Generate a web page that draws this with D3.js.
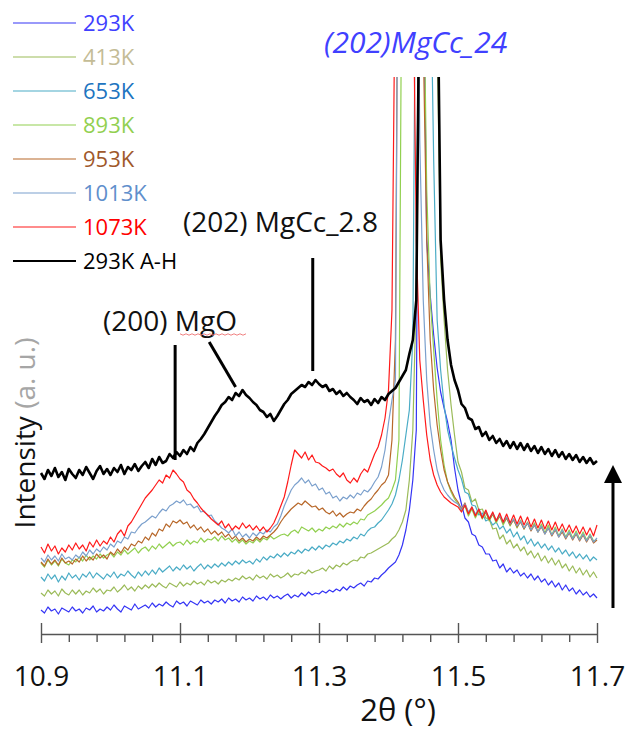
<!DOCTYPE html>
<html>
<head>
<meta charset="utf-8">
<script src="https://cdn.jsdelivr.net/npm/d3@7"></script>
<style>
  body { margin: 0; background: #fff; }
  svg { font-family: 'Open Sans', sans-serif; }
</style>
</head>
<body>
<svg id="chart" width="626" height="733"></svg>
<script>

// 2theta grid (deg), step 0.005 from 10.900 to 11.700
const twoTheta = d3.range(161).map(i => +(10.9 + i * 0.005).toFixed(3));

// intensities (a.u.), one value per grid point
const int293 = [
  30,27,33,29,31,26,32,30,28,33, 29,31,27,32,30,34,28,31,29,33,
  30,35,31,28,34,32,30,36,31,33, 35,32,37,33,36,34,38,35,33,39,
  36,38,34,39,37,35,40,37,39,36, 40,38,41,37,42,39,41,38,43,40,
  42,39,44,41,43,40,45,42,44,41, 44,46,42,45,43,47,44,48,45,47,
  46,49,47,50,48,51,49,53,50,54, 52,55,57,54,59,58,62,61,65,68,
  72,75,78,85,95,110,130,160,210,900, 700,400,345,305,272,248,232,218,200,172,
  150,136,122,118,106,104,95,93,86,86, 79,80,72,76,68,72,67,70,64,67,
  62,66,60,64,58,61,55,59,53,57, 50,55,49,52,46,50,45,48,43,46,
  42];
const int413 = [
  47,44,50,46,49,44,51,47,45,50, 46,50,45,49,47,52,48,51,46,50,
  49,53,48,51,55,50,53,49,54,51, 55,52,56,53,57,54,52,57,55,53,
  58,54,57,55,59,56,58,55,60,57, 59,56,60,58,61,59,62,60,64,61,
  63,60,65,62,64,61,66,63,65,62, 64,67,63,66,65,68,66,70,67,69,
  70,72,69,74,71,75,73,77,75,78, 80,79,83,82,86,87,89,91,93,95,
  97,101,104,110,118,130,160,210,350,800, 950,1000,950,850,600,380,320,270,235,205,
  178,168,152,150,138,141,130,131,122,121, 111,112,101,105,96,100,92,96,89,93,
  85,89,82,87,79,84,77,82,75,80, 72,76,69,74,67,72,65,70,63,68,
  62];
const int653 = [
  63,59,66,61,65,58,64,60,67,62, 65,60,66,63,68,62,67,64,61,66,
  63,68,62,66,64,69,65,62,68,64, 69,65,70,66,72,68,71,74,69,73,
  70,75,71,74,69,73,76,71,75,72, 76,73,77,74,78,75,79,76,80,77,
  79,76,81,78,83,80,84,82,86,83, 87,84,88,86,90,87,91,89,93,90,
  94,91,95,93,97,95,99,97,101,99, 103,101,106,104,109,112,113,117,120,125,
  130,136,145,160,180,205,230,300,800,1000, 1100,1000,700,480,320,270,235,210,195,182,
  170,161,148,146,135,134,125,127,119,121, 115,118,111,114,107,111,103,108,100,104,
  96,101,94,98,92,96,90,94,88,92, 86,90,84,88,82,86,81,85,79,83,
  80];
const int893 = [
  77,73,80,75,79,74,81,77,75,80, 78,83,79,85,80,84,81,86,82,85,
  87,83,88,85,90,86,89,92,87,91, 93,89,94,91,96,92,95,98,94,97,
  98,95,100,96,99,97,102,98,101,100, 103,99,104,100,102,98,101,97,100,96,
  99,97,101,98,102,100,104,101,103,105, 106,104,108,110,107,113,111,109,112,108,
  111,109,113,111,114,112,116,113,117,115, 118,116,121,120,125,127,129,132,135,139,
  142,150,160,200,800,1100,1200,1200,1100,1000, 700,450,340,290,240,200,175,158,148,141,
  136,129,134,124,131,122,129,121,128,119, 126,117,124,115,122,114,121,112,120,111,
  118,110,117,108,116,107,115,105,113,104, 111,103,110,102,109,101,108,100,106,99,
  100];
const int953 = [
  78,74,81,76,80,75,82,77,79,76, 81,78,84,79,83,80,86,82,85,81,
  88,85,91,87,93,90,96,94,99,97, 103,100,107,104,111,109,116,113,119,117,
  120,116,118,112,115,110,113,108,111,106, 109,105,108,103,106,101,104,99,102,98,
  101,99,103,100,104,102,105,108,112,118, 123,127,131,134,137,135,139,136,133,134,
  130,132,128,126,129,124,127,123,126,128, 127,131,129,134,138,141,146,150,155,158,
  165,200,300,900,1100,1200,1200,1150,1100,1000, 600,400,300,250,215,190,170,158,150,143,
  138,131,137,127,132,125,130,122,128,120, 126,119,124,117,122,115,120,113,118,111,
  117,109,115,108,113,106,112,104,110,103, 108,101,107,100,106,99,105,98,104,97,
  100];
const int1013 = [
  82,78,85,80,84,79,86,81,83,80, 85,82,88,84,90,86,91,88,93,90,
  96,93,99,97,103,101,108,107,112,116, 118,121,124,122,127,131,129,134,136,139,
  137,140,135,136,132,134,128,129,124,125, 119,116,112,110,107,111,104,108,103,106,
  102,107,104,108,106,110,108,113,116,124, 134,142,150,155,158,162,157,160,154,156,
  150,152,146,148,142,144,139,143,141,145, 142,147,145,150,148,152,158,163,173,190,
  217,240,260,900,1100,1150,1100,1000,900,500, 340,260,215,190,170,158,150,145,141,138,
  136,130,136,128,133,126,131,124,129,122, 127,120,125,118,123,116,121,114,119,112,
  117,110,115,108,114,106,112,105,111,103, 110,102,108,101,107,100,106,99,105,98,
  102];
const int1073 = [
  93,87,96,89,94,86,92,88,95,90, 97,91,95,89,98,93,100,94,99,96,
  103,98,106,110,104,114,118,124,130,136, 142,146,150,155,160,157,165,162,170,166,
  161,158,150,147,141,137,132,128,125,121, 118,115,119,112,116,110,114,111,117,112,
  115,110,114,109,113,108,112,117,125,134, 143,158,175,190,186,182,188,180,185,178,
  177,174,172,169,171,166,163,167,160,157, 162,158,166,171,168,177,186,193,205,222,
  250,330,700,1000,1100,1100,1000,700,400,280, 240,205,180,165,155,148,143,140,137,135,
  133,128,135,126,133,124,131,122,130,121, 128,119,127,118,126,117,125,116,124,115,
  123,113,121,112,120,111,119,110,118,109, 116,108,115,107,114,106,113,105,112,104,
  115];
const int293AH = [
  167,161,170,164,172,163,168,160,171,166, 162,170,165,173,167,161,169,174,166,171,
  165,172,168,175,166,173,170,176,169,174, 178,172,181,175,183,177,179,186,182,188,
  184,190,186,193,189,197,201,206,212,218, 224,229,235,238,243,240,247,244,250,245,
  242,238,235,230,228,223,226,219,224,230, 236,240,246,249,252,255,253,258,255,260,
  256,253,255,249,251,246,249,244,247,243, 240,236,242,238,240,235,241,237,243,240,
  246,249,252,258,264,270,286,300,340,700, 900,1000,1000,950,700,400,340,300,275,260,
  250,236,232,222,220,211,213,204,208,200, 204,197,201,194,199,192,198,191,197,190,
  196,189,194,187,193,186,191,184,190,183, 188,181,186,180,185,178,183,177,182,176,
  179];

const seriesLabels = ['293K', '413K', '653K', '893K', '953K', '1013K', '1073K', '293K A-H'];
const majorTicks = [10.9, 11.1, 11.3, 11.5, 11.7];

// styles
const lineColors = ['#3535f5', '#9bbb59', '#4bacc6', '#92d050', '#b8682a', '#7ba0cd', '#ff1a1a', '#000000'];
const textColors = ['#4040ff', '#c4bc96', '#2074c0', '#92d050', '#a0582a', '#5f8fcc', '#ff0000', '#000000'];

const series = [int293, int413, int653, int893, int953, int1013, int1073, int293AH].map((v, i) => ({
  name: seriesLabels[i],
  values: v,
  color: lineColors[i],
  textColor: textColors[i],
  width: i == 7 ? 2.6 : 1.2
}));

const svg = d3.select('#chart');
const width = 626, height = 733;

svg.append('rect').attr('width', width).attr('height', height).attr('fill', '#fff');

// scales
const x = d3.scaleLinear().domain([10.9, 11.7]).range([41, 597]);
const y = d3.scaleLinear().domain([0, 560]).range([640, 80]);

// clip the tall peak at the top
svg.append('defs').append('clipPath').attr('id', 'clip')
  .append('rect')
  .attr('x', 0).attr('y', y(563))
  .attr('width', width).attr('height', height);

const line = d3.line()
  .x((d, i) => x(twoTheta[i]))
  .y(d => y(d));

const plot = svg.append('g').attr('clip-path', 'url(#clip)');

plot.selectAll('.trace').data(series)
  .join('path')
  .attr('class', 'trace')
  .attr('d', d => line(d.values))
  .attr('fill', 'none')
  .attr('stroke', d => d.color)
  .attr('stroke-width', d => d.width)
  .attr('stroke-linejoin', 'round');

// x axis: minor ticks + baseline
const minorTicks = d3.range(21).filter(i => i % 5 != 0).map(i => 10.9 + i * 0.04);

svg.append('g')
  .attr('transform', 'translate(0,634)')
  .call(d3.axisBottom(x).tickValues(minorTicks).tickSize(8).tickSizeOuter(0).tickFormat(''))
  .call(g => g.selectAll('line, path').attr('stroke', '#555').attr('stroke-width', 1.4));

// x axis: major ticks crossing the baseline, with labels
svg.append('g')
  .attr('transform', 'translate(0,623)')
  .call(d3.axisBottom(x).tickValues(majorTicks).tickSize(20).tickPadding(23).tickFormat(d3.format('.1f')))
  .call(g => g.select('.domain').remove())
  .call(g => g.selectAll('line').attr('stroke', '#555').attr('stroke-width', 1.4))
  .call(g => g.selectAll('text')
    .attr('font-family', "'Open Sans', sans-serif")
    .attr('font-size', 28)
    .attr('fill', '#111'));

svg.append('text')
  .attr('x', 398).attr('y', 721)
  .attr('text-anchor', 'middle')
  .attr('font-size', 31)
  .attr('fill', '#111')
  .text('2θ (°)');

// y axis label
const yLabel = svg.append('text')
  .attr('transform', 'translate(35,433) rotate(-90)')
  .attr('text-anchor', 'middle')
  .attr('font-size', 28);
yLabel.append('tspan').attr('fill', '#111').text('Intensity ');
yLabel.append('tspan').attr('fill', '#a6a6a6').text('(a. u.)');

// legend
const legend = svg.append('g');
const rows = legend.selectAll('.row').data(series)
  .join('g')
  .attr('class', 'row')
  .attr('transform', (d, i) => `translate(0,${23 + i * 34})`);

rows.append('line')
  .attr('x1', 13).attr('x2', 76)
  .attr('stroke', d => d.color)
  .attr('stroke-width', d => d.name == '293K A-H' ? 1.8 : 1.2);

rows.append('text')
  .attr('x', 83).attr('y', 0)
  .attr('dy', '0.35em')
  .attr('font-size', 22)
  .attr('fill', d => d.textColor)
  .text(d => d.name);

// peak title
svg.append('text')
  .attr('x', 324).attr('y', 53)
  .attr('font-size', 30)
  .attr('font-style', 'italic')
  .attr('fill', '#4040ff')
  .text('(202)MgCc_24');

// annotations
const ann = svg.append('g').attr('stroke', '#000').attr('stroke-width', 3);

svg.append('text')
  .attr('x', 183).attr('y', 232)
  .attr('font-size', 28)
  .attr('fill', '#111')
  .text('(202) MgCc_2.8');

ann.append('line')
  .attr('x1', x(11.291)).attr('x2', x(11.291))
  .attr('y1', y(382)).attr('y2', y(269));

svg.append('text')
  .attr('x', 103).attr('y', 331)
  .attr('font-size', 28)
  .attr('fill', '#111')
  .text('(200) MgO');

// spell-check squiggle under MgO
const squig = d3.range(0, 68, 3).map((d, i) => [180 + d, 334 + (i % 2 ? 1.2 : -0.2)]);
svg.append('path')
  .attr('d', d3.line()(squig))
  .attr('fill', 'none')
  .attr('stroke', '#f08080')
  .attr('stroke-width', 1);

ann.append('line')
  .attr('x1', x(11.093)).attr('x2', x(11.093))
  .attr('y1', y(295)).attr('y2', y(180));

ann.append('line')
  .attr('x1', x(11.142)).attr('x2', x(11.18))
  .attr('y1', y(298)).attr('y2', y(253));

// arrow on the right
const ax = x(11.723);
svg.append('line')
  .attr('x1', ax).attr('x2', ax)
  .attr('y1', y(32)).attr('y2', y(160))
  .attr('stroke', '#000').attr('stroke-width', 3);
svg.append('path')
  .attr('d', `M${ax - 9},${y(157)}L${ax},${y(175)}L${ax + 9},${y(157)}Z`)
  .attr('fill', '#000');

</script>
</body>
</html>
